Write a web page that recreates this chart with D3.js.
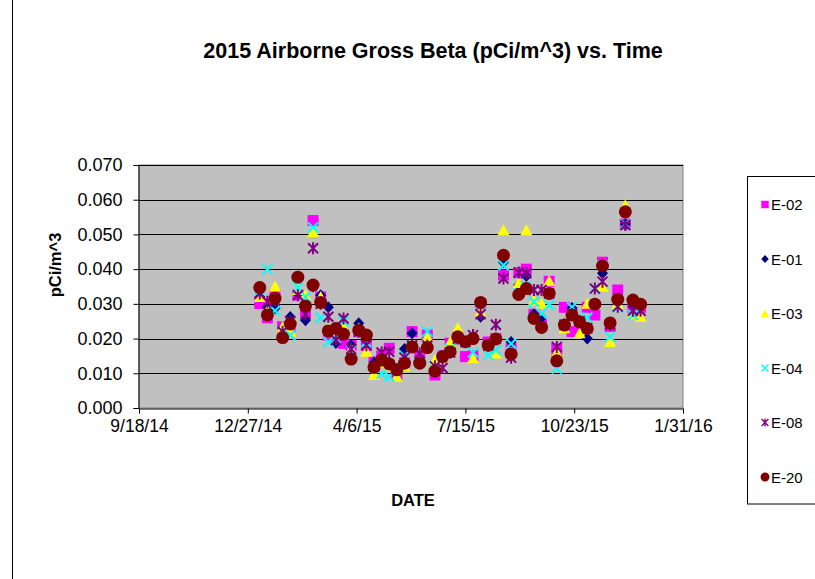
<!DOCTYPE html>
<html>
<head>
<meta charset="utf-8">
<script src="https://cdn.jsdelivr.net/npm/d3@7"></script>
<style>
  html, body { margin: 0; padding: 0; background: #fff; }
  svg { display: block; font-family: Arial, "Liberation Sans", sans-serif; }
</style>
</head>
<body>
<svg id="chart" width="815" height="579"></svg>
<script>
// Weekly air filter collection dates, 2015
const sampleDates = [
  "2015-01-07","2015-01-14","2015-01-21","2015-01-28","2015-02-04","2015-02-11","2015-02-18","2015-02-25",
  "2015-03-04","2015-03-11","2015-03-18","2015-03-25","2015-04-01","2015-04-08","2015-04-15","2015-04-22",
  "2015-04-29","2015-05-06","2015-05-13","2015-05-20","2015-05-27","2015-06-03","2015-06-10","2015-06-17",
  "2015-06-24","2015-07-01","2015-07-08","2015-07-15","2015-07-22","2015-07-29","2015-08-05","2015-08-12",
  "2015-08-19","2015-08-26","2015-09-02","2015-09-09","2015-09-16","2015-09-23","2015-09-30","2015-10-07",
  "2015-10-14","2015-10-21","2015-10-28","2015-11-04","2015-11-11","2015-11-18","2015-11-25","2015-12-02",
  "2015-12-09","2015-12-16","2015-12-23"
];

// Gross beta concentration (pCi/m^3) by station
const e02 = [0.0301,0.0260,0.0325,0.0234,0.0235,0.0325,0.0277,0.0540,0.0320,0.0210,0.0220,0.0186,0.0180,0.0220,0.0180,0.0133,
             0.0150,0.0172,0.0095,0.0130,0.0220,0.0150,0.0210,0.0095,0.0150,0.0187,0.0200,0.0148,0.0150,0.0300,0.0190,0.0200,
             0.0383,0.0170,0.0390,0.0400,0.0270,0.0240,0.0365,0.0170,0.0290,0.0220,0.0230,0.0290,0.0268,0.0420,0.0235,0.0340,
             0.0530,0.0290,0.0290];
const e01 = [0.0320,0.0290,0.0287,0.0230,0.0262,0.0330,0.0253,0.0350,0.0325,0.0290,0.0187,0.0210,0.0181,0.0244,0.0200,0.0130,
             0.0140,0.0130,0.0110,0.0170,0.0215,0.0130,0.0180,0.0110,0.0150,0.0160,0.0210,0.0190,0.0200,0.0263,0.0180,0.0200,
             0.0420,0.0190,0.0354,0.0380,0.0270,0.0260,0.0330,0.0150,0.0240,0.0288,0.0250,0.0200,0.0300,0.0388,0.0240,0.0310,
             0.0530,0.0300,0.0290];
const e03 = [0.0320,0.0280,0.0350,0.0234,0.0220,0.0340,0.0325,0.0507,0.0320,0.0230,0.0220,0.0233,0.0170,0.0230,0.0162,0.0095,
             0.0130,0.0120,0.0090,0.0120,0.0180,0.0130,0.0205,0.0138,0.0150,0.0190,0.0230,0.0190,0.0143,0.0277,0.0180,0.0157,
             0.0512,0.0160,0.0360,0.0512,0.0310,0.0300,0.0366,0.0160,0.0230,0.0270,0.0215,0.0300,0.0300,0.0350,0.0190,0.0300,
             0.0584,0.0270,0.0263];
const e04 = [0.0340,0.0400,0.0280,0.0220,0.0210,0.0347,0.0320,0.0520,0.0260,0.0190,0.0200,0.0250,0.0167,0.0220,0.0190,0.0120,
             0.0099,0.0090,0.0110,0.0150,0.0180,0.0130,0.0220,0.0110,0.0150,0.0170,0.0200,0.0190,0.0160,0.0300,0.0153,0.0167,
             0.0411,0.0185,0.0330,0.0350,0.0306,0.0272,0.0296,0.0114,0.0240,0.0290,0.0260,0.0260,0.0345,0.0410,0.0205,0.0290,
             0.0530,0.0268,0.0280];
const e08 = [0.0330,0.0306,0.0310,0.0220,0.0250,0.0325,0.0270,0.0460,0.0300,0.0263,0.0196,0.0258,0.0170,0.0220,0.0181,0.0120,
             0.0160,0.0162,0.0110,0.0145,0.0180,0.0157,0.0180,0.0120,0.0115,0.0160,0.0200,0.0190,0.0210,0.0270,0.0180,0.0240,
             0.0373,0.0145,0.0390,0.0388,0.0340,0.0340,0.0330,0.0176,0.0240,0.0270,0.0250,0.0230,0.0344,0.0364,0.0240,0.0292,
             0.0527,0.0280,0.0280];
const e20 = [0.0347,0.0268,0.0316,0.0203,0.0242,0.0377,0.0294,0.0354,0.0304,0.0222,0.0229,0.0213,0.0141,0.0224,0.0210,0.0117,
             0.0138,0.0127,0.0110,0.0129,0.0176,0.0129,0.0174,0.0106,0.0148,0.0162,0.0205,0.0191,0.0200,0.0304,0.0181,0.0199,
             0.0440,0.0155,0.0327,0.0344,0.0258,0.0232,0.0330,0.0136,0.0239,0.0268,0.0248,0.0229,0.0299,0.0409,0.0245,0.0313,
             0.0565,0.0311,0.0299];

const seriesNames = ["E-02","E-01","E-03","E-04","E-08","E-20"];
const seriesValues = [e02, e01, e03, e04, e08, e20];
const seriesColors = ["#FF00FF","#000080","#FFFF00","#00FFFF","#800080","#800000"];
const seriesShapes = ["square","diamond","triangle","cross","star","circle"];

const yTicks = [0.000,0.010,0.020,0.030,0.040,0.050,0.060,0.070];
const xTickLabels = ["9/18/14","12/27/14","4/6/15","7/15/15","10/23/15","1/31/16"];

const titleText = "2015 Airborne Gross Beta (pCi/m^3) vs. Time";
const yAxisTitle = "pCi/m^3";
const xAxisTitle = "DATE";

// ---- layout ----
const plot = { left: 139, right: 683, top: 165, bottom: 408 };
const parseMDY = d3.timeParse("%m/%d/%y");
const parseISO = d3.timeParse("%Y-%m-%d");
const xTickDates = xTickLabels.map(parseMDY);

const x = d3.scaleTime()
  .domain([xTickDates[0], xTickDates[xTickDates.length - 1]])
  .range([plot.left, plot.right]);
const y = d3.scaleLinear().domain([0, 0.07]).range([plot.bottom, plot.top]);

const svg = d3.select("#chart");

// chart area outline
svg.append("rect")
  .attr("x", 12.5).attr("y", -5).attr("width", 900).attr("height", 700)
  .attr("fill", "#fff").attr("stroke", "#000").attr("stroke-width", 1);

// plot area
svg.append("rect")
  .attr("x", plot.left).attr("y", plot.top)
  .attr("width", plot.right - plot.left).attr("height", plot.bottom - plot.top)
  .attr("fill", "#C0C0C0").attr("stroke", "#808080").attr("stroke-width", 1);

// horizontal gridlines
svg.append("g").selectAll("line").data(yTicks.slice(1)).join("line")
  .attr("x1", plot.left).attr("x2", plot.right)
  .attr("y1", d => Math.round(y(d)) + 0.5).attr("y2", d => Math.round(y(d)) + 0.5)
  .attr("stroke", "#000").attr("stroke-width", 1);

// y axis
const yAxis = svg.append("g")
  .attr("transform", `translate(${plot.left - 0.5},0)`)
  .call(d3.axisLeft(y).tickValues(yTicks).tickFormat(d3.format(".3f")).tickSize(5).tickPadding(11));
yAxis.select(".domain").attr("stroke", "#000");
yAxis.selectAll(".tick line").attr("stroke", "#000");
yAxis.selectAll("text").attr("font-size", "18px").attr("fill", "#000")
  .attr("font-family", "Arial, 'Liberation Sans', sans-serif");

// x axis
const xAxis = svg.append("g")
  .attr("transform", `translate(0,${plot.bottom + 0.5})`)
  .call(d3.axisBottom(x).tickValues(xTickDates).tickFormat((d, i) => xTickLabels[i]).tickSize(5).tickPadding(6));
xAxis.select(".domain").attr("stroke", "#000");
xAxis.selectAll(".tick line").attr("stroke", "#000");
xAxis.selectAll("text").attr("font-size", "17.5px").attr("fill", "#000")
  .attr("font-family", "Arial, 'Liberation Sans', sans-serif");

// marker shapes
function markerPath(shape, s) {
  switch (shape) {
    case "square":   return `M${-5.5*s},${-5.5*s}h${11*s}v${11*s}h${-11*s}Z`;
    case "diamond":  return `M0,${-6*s}L${5.5*s},0L0,${6*s}L${-5.5*s},0Z`;
    case "triangle": return `M0,${-6*s}L${6*s},${5*s}L${-6*s},${5*s}Z`;
    case "cross":    return `M${-5*s},${-5*s}L${5*s},${5*s}M${5*s},${-5*s}L${-5*s},${5*s}`;
    case "star":     return `M${-5*s},${-5*s}L${5*s},${5*s}M${5*s},${-5*s}L${-5*s},${5*s}M0,${-6*s}L0,${6*s}`;
    case "circle":   return d3.arc()({innerRadius: 0, outerRadius: 6.5*s, startAngle: 0, endAngle: 2*Math.PI});
  }
}
function styleMarker(sel, shape, color, s) {
  const stroked = shape === "cross" || shape === "star";
  sel.attr("d", markerPath(shape, s))
    .attr("fill", stroked ? "none" : color)
    .attr("stroke", stroked ? color : "none")
    .attr("stroke-width", stroked ? 2 * s : 0);
}

// data markers, drawn in series order
seriesValues.forEach((vals, si) => {
  const pts = vals.map((v, i) => ({ date: parseISO(sampleDates[i]), value: v }));
  svg.append("g").selectAll("path").data(pts).join("path")
    .attr("transform", d => `translate(${x(d.date)},${y(d.value)})`)
    .call(sel => styleMarker(sel, seriesShapes[si], seriesColors[si], 1));
});

// title
svg.append("text")
  .attr("x", 433).attr("y", 58).attr("text-anchor", "middle")
  .attr("font-size", "21.5px").attr("font-weight", "bold").text(titleText);

// axis titles
svg.append("text")
  .attr("transform", "translate(61,265) rotate(-90)").attr("text-anchor", "middle")
  .attr("font-size", "16.5px").attr("font-weight", "bold").text(yAxisTitle);
svg.append("text")
  .attr("x", 413).attr("y", 506).attr("text-anchor", "middle")
  .attr("font-size", "16.5px").attr("font-weight", "bold").text(xAxisTitle);

// legend
const legend = svg.append("g");
legend.append("rect")
  .attr("x", 747.5).attr("y", 176.5).attr("width", 100).attr("height", 327.5)
  .attr("fill", "#fff").attr("stroke", "#000").attr("stroke-width", 1);
const legendStep = 54.5;
seriesNames.forEach((name, i) => {
  const cy = 204.5 + i * legendStep;
  legend.append("path")
    .attr("transform", `translate(765,${cy})`)
    .call(sel => styleMarker(sel, seriesShapes[i], seriesColors[i], 0.68));
  legend.append("text")
    .attr("x", 771).attr("y", cy + 5.5)
    .attr("font-size", "15px").text(name);
});
</script>
</body>
</html>
